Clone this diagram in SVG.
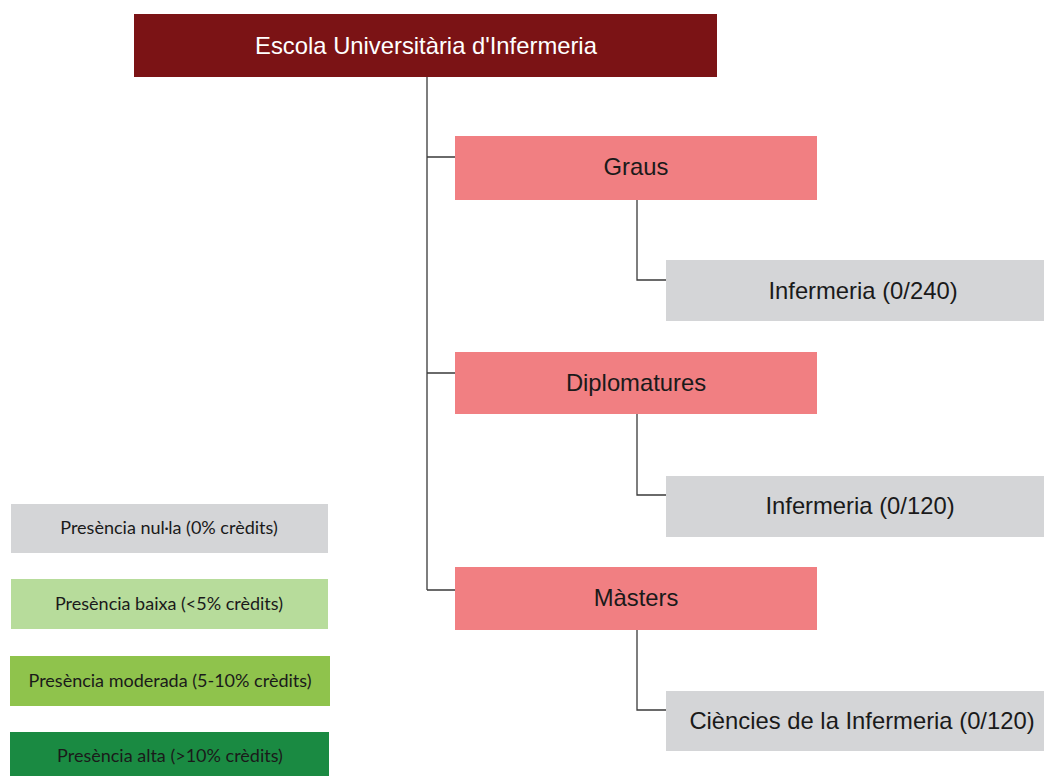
<svg xmlns="http://www.w3.org/2000/svg" width="1044" height="776" viewBox="0 0 1044 776">
<style>
.lbl{font-family:"Liberation Sans",Arial,sans-serif;font-size:23.8px;fill:#1a1a1a;text-anchor:middle;dominant-baseline:central}
.leg{font-family:Lato,"Open Sans","Liberation Sans",sans-serif;font-size:18px;fill:#1a1a1a;text-anchor:middle;dominant-baseline:central}
.conn{fill:none;stroke:#3a3a3a;stroke-width:1.3}
.cat{fill:#f17f82}
.prog{fill:#d4d5d7}
</style>
<rect width="1044" height="776" fill="#ffffff"/>
<g id="connectors">
<path class="conn" d="M427 77 V590 M427 157 H455 M427 373 H455 M427 590 H455"/>
<path class="conn" d="M637 200 V280 H666"/>
<path class="conn" d="M637 414 V495 H666"/>
<path class="conn" d="M637 630 V710 H666"/>
</g>
<g id="root"><rect x="134" y="14" width="583" height="63" fill="#7b1315"/><text class="lbl" x="426" y="45" style="fill:#ffffff">Escola Universitària d'Infermeria</text></g>
<g id="graus"><rect class="cat" x="455" y="136" width="362" height="64"/><text class="lbl" x="636" y="166">Graus</text></g>
<g id="inf240"><rect class="prog" x="666" y="260" width="378" height="61"/><text class="lbl" x="863" y="290">Infermeria (0/240)</text></g>
<g id="diplomatures"><rect class="cat" x="455" y="352" width="362" height="62"/><text class="lbl" x="636" y="382">Diplomatures</text></g>
<g id="inf120"><rect class="prog" x="666" y="476" width="378" height="61"/><text class="lbl" x="860" y="505">Infermeria (0/120)</text></g>
<g id="masters"><rect class="cat" x="455" y="567" width="362" height="63"/><text class="lbl" x="636" y="597">Màsters</text></g>
<g id="ciencies"><rect class="prog" x="666" y="691" width="378" height="60"/><text class="lbl" x="862" y="720">Ciències de la Infermeria (0/120)</text></g>
<g id="legend-nulla"><rect x="11" y="504" width="317" height="49" fill="#d4d5d7"/><text class="leg" x="169" y="527">Presència nul·la (0% crèdits)</text></g>
<g id="legend-baixa"><rect x="11" y="579" width="317" height="50" fill="#b7dc9b"/><text class="leg" x="169" y="603">Presència baixa (&lt;5% crèdits)</text></g>
<g id="legend-moderada"><rect x="10" y="656" width="320" height="50" fill="#8fc34c"/><text class="leg" x="170" y="680">Presència moderada (5-10% crèdits)</text></g>
<g id="legend-alta"><rect x="10" y="732" width="319" height="44" fill="#1a8a42"/><text class="leg" x="170" y="755">Presència alta (&gt;10% crèdits)</text></g>
</svg>
